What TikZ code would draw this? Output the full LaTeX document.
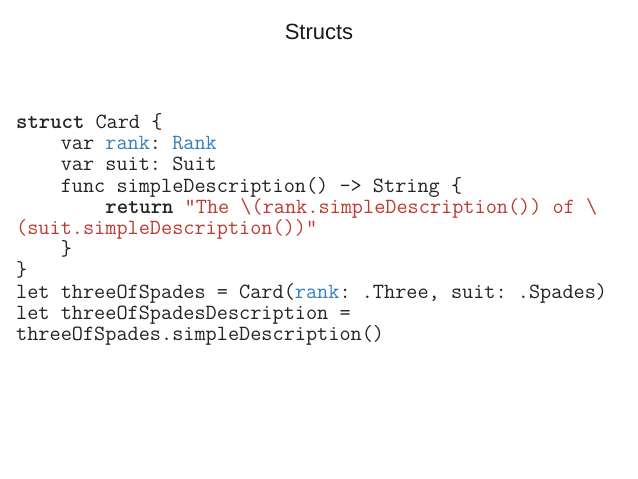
\documentclass[tikz,border=0pt]{standalone}
\usepackage{fontspec}
\setmainfont{Liberation Sans}
\definecolor{kwblue}{RGB}{52,128,190}
\definecolor{strred}{RGB}{190,58,48}
\definecolor{codegray}{RGB}{35,35,35}
\newcommand\ib[1]{{\color{kwblue}#1}}
\newcommand\ir[1]{{\color{strred}#1}}
\tikzset{
  codeline/.style={anchor=base west, inner sep=0pt, font=\fontsize{21.65}{24}\selectfont\ttfamily\frenchspacing, text=codegray},
  titletext/.style={anchor=base, inner sep=0pt, font=\fontsize{22}{24}\selectfont, text=black!90}
}
\begin{document}
\begin{tikzpicture}[x=1pt,y=-1pt]
\useasboundingbox[fill=white] (0,0) rectangle (638,479);
\node[titletext] (title) at (319,39) {Structs};
\node[codeline] (l1) at (16,128.5) {\textbf{struct} Card \{};
\node[codeline] (l2) at (16,149.7) {\ \ \ \ var \ib{rank}: \ib{Rank}};
\node[codeline] (l3) at (16,170.9) {\ \ \ \ var suit: Suit};
\node[codeline] (l4) at (16,192.1) {\ \ \ \ func simpleDescription() -> String \{};
\node[codeline] (l5) at (16,213.3) {\ \ \ \ \ \ \ \ \textbf{return} \ir{"The \textbackslash(rank.simpleDescription()) of \textbackslash}};
\node[codeline] (l6) at (16,234.5) {\ir{(suit.simpleDescription())"}};
\node[codeline] (l7) at (16,255.7) {\ \ \ \ \}};
\node[codeline] (l8) at (16,276.9) {\}};
\node[codeline] (l9) at (16,298.1) {let threeOfSpades = Card(\ib{rank}: .Three, suit: .Spades)};
\node[codeline] (l10) at (16,319.3) {let threeOfSpadesDescription =};
\node[codeline] (l11) at (16,340.5) {threeOfSpades.simpleDescription()};
\end{tikzpicture}
\end{document}
